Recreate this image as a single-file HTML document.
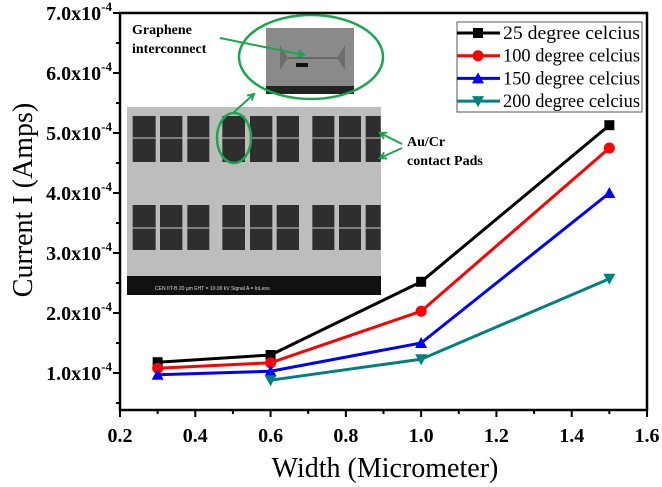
<!DOCTYPE html>
<html><head><meta charset="utf-8"><style>
body{margin:0;background:#fff}
svg{display:block;font-family:"Liberation Serif",serif}
</style></head><body>
<svg id="chart" width="662" height="487" viewBox="0 0 662 487">
<rect width="662" height="487" fill="#fff"/>
<g id="inset"></g>
<g id="marks"></g>
<g id="axes"></g>
<g id="legend"></g>
</svg>
<script>
const xValues=[0.3,0.6,1.0,1.5];
const series25=[1.18,1.30,2.52,5.13];
const series100=[1.08,1.17,2.03,4.75];
const series150=[0.97,1.03,1.50,4.00];
const xValues200=[0.6,1.0,1.5];
const series200=[0.88,1.23,2.57];
const seriesNames=["25 degree celcius","100 degree celcius","150 degree celcius","200 degree celcius"];
const xTicks=[0.2,0.4,0.6,0.8,1.0,1.2,1.4,1.6];
const yTicks=[1,2,3,4,5,6,7];

const NS="http://www.w3.org/2000/svg";
const L=120,R=647,T=13,B=410;
const xMin=0.2,xMax=1.6;
function xs(v){return L+(v-xMin)/(xMax-xMin)*(R-L);}
function ys(v){return 373-(v-1)*60;}
function mk(tag,attrs,parent){const e=document.createElementNS(NS,tag);for(const k in attrs)e.setAttribute(k,attrs[k]);parent.appendChild(e);return e;}

// inset
const inset=document.getElementById('inset');
mk('rect',{x:127,y:107,width:254,height:188,fill:'#bdbdbd'},inset);
mk('rect',{x:127,y:276,width:254,height:19,fill:'#111'},inset);
const padX=[68,150,232,337,420,500,607,687,767];
const padR=[137,217,298,405,487,567,673,753,812];
for(let i=0;i<padX.length;i++){
 const x=110+padX[i]/3,w=(padR[i]-padX[i])/3;
 mk('rect',{x:x,y:116,width:w,height:46,fill:'#2e2e2e'},inset);
 mk('rect',{x:x,y:205,width:w,height:45,fill:'#2e2e2e'},inset);
 mk('line',{x1:x,x2:x+w,y1:138,y2:138,stroke:'#ccc','stroke-width':1},inset);
 mk('line',{x1:x,x2:x+w,y1:228,y2:228,stroke:'#ccc','stroke-width':1},inset);
}
const it=mk('text',{x:155,y:290,'font-size':5,fill:'#ddd','font-family':'Liberation Sans'},inset);it.textContent="CEN IIT-B      20 µm           EHT = 10.00 kV    Signal A = InLens";
mk('rect',{x:266,y:28,width:88,height:66,fill:'#8a8a8a'},inset);
mk('rect',{x:266,y:86,width:88,height:8,fill:'#222'},inset);
mk('polygon',{points:'280,45 288,58 280,70',fill:'#6d6d6d'},inset);
mk('polygon',{points:'345,45 337,58 345,70',fill:'#6d6d6d'},inset);
mk('line',{x1:288,x2:337,y1:58,y2:58,stroke:'#444','stroke-width':1},inset);
mk('rect',{x:296,y:63,width:12,height:4,fill:'#111'},inset);
const g='#1aa64a';
mk('ellipse',{cx:311,cy:57,rx:72,ry:42,fill:'none',stroke:g,'stroke-width':2.5},inset);
mk('ellipse',{cx:234,cy:138,rx:17,ry:25,fill:'none',stroke:g,'stroke-width':2.5},inset);
function arrow(x1,y1,x2,y2){
 mk('line',{x1:x1,y1:y1,x2:x2,y2:y2,stroke:g,'stroke-width':2},inset);
 const a=Math.atan2(y2-y1,x2-x1),s=7;
 mk('polyline',{points:`${x2-s*Math.cos(a-0.5)},${y2-s*Math.sin(a-0.5)} ${x2},${y2} ${x2-s*Math.cos(a+0.5)},${y2-s*Math.sin(a+0.5)}`,fill:'none',stroke:g,'stroke-width':2},inset);
}
arrow(220,38,304,55);
arrow(234,112,254,94);
arrow(402,144,380,133);
arrow(402,148,380,158);
const t1=mk('text',{x:132,y:34,'font-size':14,'font-weight':'bold'},inset);t1.textContent="Graphene";

const t2=mk('text',{x:132,y:53,'font-size':14,'font-weight':'bold'},inset);t2.textContent="interconnect";
const t3=mk('text',{x:407,y:146,'font-size':14,'font-weight':'bold'},inset);t3.textContent="Au/Cr";

const t4=mk('text',{x:407,y:165,'font-size':14,'font-weight':'bold'},inset);t4.textContent="contact  Pads";

// axes
const ax=document.getElementById('axes');
const frame=mk('rect',{x:L,y:T,width:R-L,height:B-T,fill:'none',stroke:'#000','stroke-width':2.5},ax);

xTicks.forEach((v,i)=>{
 const x=xs(v);
 mk('line',{x1:x,x2:x,y1:B,y2:B+7,stroke:'#000','stroke-width':2},ax);
 if(i<xTicks.length-1) mk('line',{x1:xs(v+0.1),x2:xs(v+0.1),y1:B,y2:B+4,stroke:'#000','stroke-width':2},ax);
 const t=mk('text',{x:x,y:B+32,'font-size':20,'font-weight':'bold','text-anchor':'middle'},ax);
 
 t.textContent=v.toFixed(1);
});
yTicks.forEach((v)=>{
 const y=ys(v);
 mk('line',{x1:L-7,x2:L,y1:y,y2:y,stroke:'#000','stroke-width':2},ax);
 mk('line',{x1:L-4,x2:L,y1:ys(v-0.5),y2:ys(v-0.5),stroke:'#000','stroke-width':2},ax);
 const t=mk('text',{x:L-8,y:y+7,'font-size':20,'font-weight':'bold','text-anchor':'end'},ax);
 
 t.innerHTML=v.toFixed(1)+'x10<tspan dy="-9" font-size="13">-4</tspan>';
});
const xt=mk('text',{x:385,y:477,'font-size':28,'text-anchor':'middle'},ax);

xt.textContent="Width (Micrometer)";
const yt=mk('text',{x:0,y:0,'font-size':28,'text-anchor':'middle',transform:'translate(32,200) rotate(-90)'},ax);

yt.textContent="Current I (Amps)";

// series
const colors=['#000000','#ff0000','#0000ff','#008080'];
const allX=[xValues,xValues,xValues,xValues200];
const allY=[series25,series100,series150,series200];
const shapes=['square','circle','up','down'];
function marker(parent,shape,x,y,c){
 if(shape==='square') return mk('rect',{x:x-5,y:y-5,width:10,height:10,fill:c},parent);
 if(shape==='circle') return mk('circle',{cx:x,cy:y,r:5.5,fill:c},parent);
 if(shape==='up') return mk('polygon',{points:`${x},${y-6} ${x+6},${y+5} ${x-6},${y+5}`,fill:c},parent);
 return mk('polygon',{points:`${x-6},${y-5} ${x+6},${y-5} ${x},${y+6}`,fill:c},parent);
}
const marks=document.getElementById('marks');
allY.forEach((ser,si)=>{
 const grp=mk('g',{},marks);
 
 
 const pts=ser.map((v,i)=>xs(allX[si][i])+','+ys(v)).join(' ');
 mk('polyline',{points:pts,fill:'none',stroke:colors[si],'stroke-width':3},grp);
 ser.forEach((v,i)=>{
  const m=marker(grp,shapes[si],xs(allX[si][i]),ys(v),colors[si]);
  
  
 });
});

// legend
const lg=document.getElementById('legend');
mk('rect',{x:457,y:22,width:185,height:90,fill:'#fff',stroke:'#555','stroke-width':1},lg);
seriesNames.forEach((n,i)=>{
 const y=33+i*22.7;
 const e=mk('g',{},lg);
 
 
 mk('line',{x1:457,x2:500,y1:y,y2:y,stroke:colors[i],'stroke-width':3},e);
 marker(e,shapes[i],478,y,colors[i]);
 const t=mk('text',{x:503,y:y+6,'font-size':18.5,textLength:137,lengthAdjust:'spacingAndGlyphs'},e);
 t.textContent=n;
});
</script>
</body></html>
